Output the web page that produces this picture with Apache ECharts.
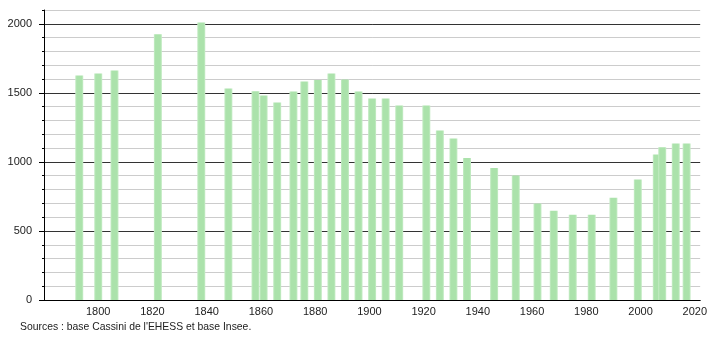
<!DOCTYPE html>
<html>
<head>
<meta charset="utf-8">
<script src="https://cdn.jsdelivr.net/npm/echarts@6/dist/echarts.min.js"></script>
<style>
html,body{margin:0;padding:0;background:#fff;}
#chart{width:710px;height:340px;}
</style>
</head>
<body>
<div id="chart"></div>
<script>
var years = [1793, 1800, 1806, 1822, 1838, 1848, 1858, 1861, 1866, 1872, 1876, 1881, 1886, 1891, 1896, 1901, 1906, 1911, 1921, 1926, 1931, 1936, 1946, 1954, 1962, 1968, 1975, 1982, 1990, 1999, 2006, 2008, 2013, 2017];
var population = [1625, 1640, 1662, 1925, 2009, 1531, 1512, 1480, 1430, 1509, 1582, 1594, 1640, 1596, 1509, 1459, 1459, 1408, 1408, 1227, 1169, 1029, 956, 901, 698, 647, 618, 618, 741, 872, 1053, 1106, 1133, 1133];
var yLabelValues = [0, 500, 1000, 1500, 2000];
var xLabelValues = [1800, 1820, 1840, 1860, 1880, 1900, 1920, 1940, 1960, 1980, 2000, 2020];
var sourceText = "Sources : base Cassini de l'EHESS et base Insee.";

var data = years.map(function (y, i) { return [y, population[i]]; });
var font = 'Liberation Sans, Arial, sans-serif';
var plain = function (v) { return String(v); };

var chart = echarts.init(document.getElementById('chart'), null, {renderer: 'canvas'});
chart.setOption({
  animation: false,
  backgroundColor: '#ffffff',
  grid: {left: 44, right: 9, top: 10, bottom: 40, containLabel: false},
  xAxis: {
    type: 'value', min: 1780, max: 2022, interval: 20,
    axisLine: {show: true, lineStyle: {color: '#000', width: 1}},
    axisTick: {show: false},
    splitLine: {show: false},
    axisLabel: {customValues: xLabelValues, formatter: plain, color: '#222', fontSize: 11, fontFamily: font, margin: 6}
  },
  yAxis: [{
    type: 'value', min: 0, max: 2100, interval: 100,
    axisLine: {show: true, lineStyle: {color: '#000', width: 1}},
    axisTick: {show: true, length: 2, lineStyle: {color: '#000'}},
    splitLine: {show: true, lineStyle: {width: 1, color: ['#333', '#cccccc', '#cccccc', '#cccccc', '#cccccc']}},
    axisLabel: {customValues: yLabelValues, formatter: plain, color: '#222', fontSize: 11, fontFamily: font, margin: 12}
  }, {
    type: 'value', min: 0, max: 2100, position: 'left',
    axisLine: {show: false},
    axisTick: {show: true, customValues: yLabelValues, length: 5, lineStyle: {color: '#000'}},
    splitLine: {show: false},
    axisLabel: {show: false}
  }],
  series: [{
    type: 'bar',
    yAxisIndex: 0,
    data: data,
    barWidth: 8,
    itemStyle: {
      color: new echarts.graphic.LinearGradient(0, 0, 1, 0, [
        {offset: 0, color: '#c8edc8'},
        {offset: 0.2, color: '#abe2ab'},
        {offset: 0.8, color: '#abe2ab'},
        {offset: 1, color: '#c8edc8'}
      ])
    }
  }],
  graphic: [{
    type: 'text', left: 20, top: 322,
    style: {text: sourceText, fill: '#222', font: '10.4px ' + font}
  }]
});
</script>
</body>
</html>
